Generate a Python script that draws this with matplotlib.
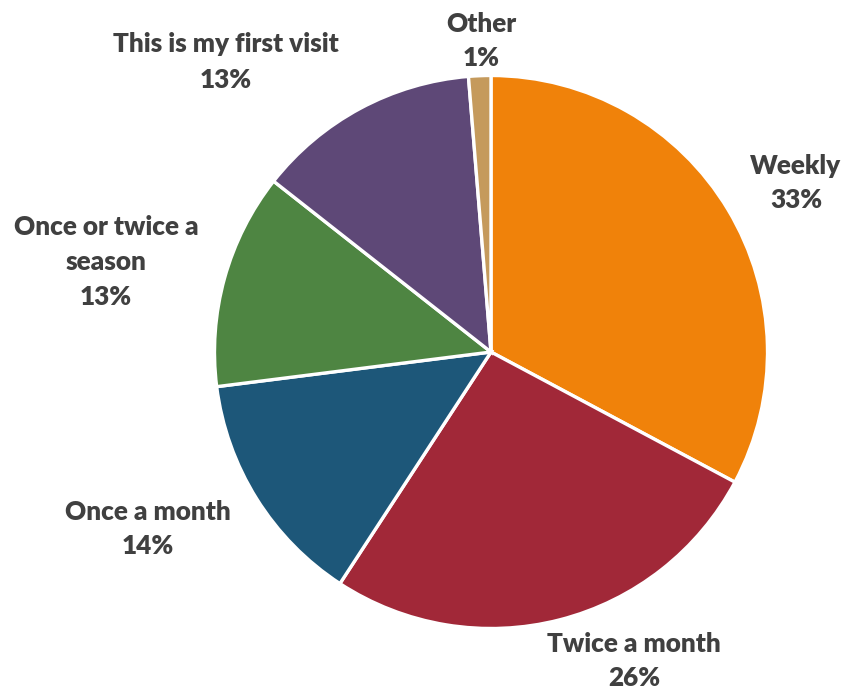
import matplotlib
matplotlib.use("Agg")
import matplotlib.pyplot as plt

# Visit frequency shares (percent)
categories = ["Weekly", "Twice a month", "Once a month",
              "Once or twice a\nseason", "This is my first visit", "Other"]
shares = [32.8, 26.4, 13.8, 12.6, 13.1, 1.3]
colors = ["#F0820A", "#A12838", "#1D5779", "#4E8542", "#5E4877", "#C59A5C"]

# Label anchor points in pixel coordinates (x, y from top)
label_pos = [(796, 183), (634, 661), (148, 529), (106, 262), (226, 62), (481, 41)]

W, H = 844, 692
fig = plt.figure(figsize=(W / 100, H / 100), dpi=100)
ax = fig.add_axes([0, 0, 1, 1])
ax.set_xlim(0, W)
ax.set_ylim(0, H)
ax.axis("off")

ax.pie(shares, colors=colors, startangle=90, counterclock=False,
       center=(491, H - 352), radius=276.5,
       wedgeprops=dict(edgecolor="white", linewidth=2.4))

ax.set_xlim(0, W)
ax.set_ylim(0, H)
ax.set_aspect("auto")

for cat, val, (x, y) in zip(categories, shares, label_pos):
    ax.text(x, H - y, f"{cat}\n{round(val):d}%", ha="center", va="center",
            fontsize=18.8, fontweight="heavy", family="Lato", color="#404040",
            linespacing=1.55)

fig.savefig("out.png", dpi=100)
